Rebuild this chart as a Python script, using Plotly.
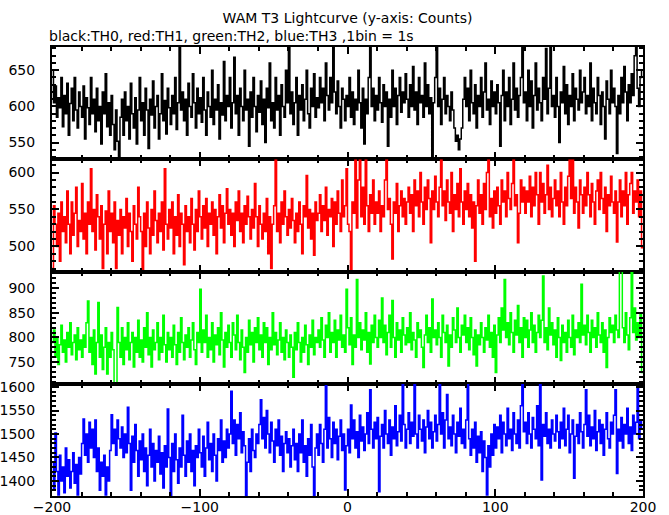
import numpy as np
import plotly.graph_objects as go
from plotly.subplots import make_subplots

# time bins (1 s), start of each bin, -200 .. 199
time_start = -200
n_bins = 400

th0 = [
650, 605, 628, 585, 612, 598, 640, 572, 615, 590, 632, 560, 604, 625, 580, 640, 595, 570, 620, 600,
585, 628, 555, 612, 598, 575, 640, 590, 610, 565, 625, 580, 600, 548, 620, 590, 645, 572, 605, 560,
615, 575, 540, 595, 552, 530, 585, 610, 560, 620, 580, 600, 555, 632, 590, 570, 612, 548, 595, 640,
580, 605, 560, 625, 595, 542, 610, 588, 635, 570, 600, 615, 555, 590, 645, 580, 608, 562, 625, 598,
575, 615, 590, 640, 568, 605, 688, 595, 620, 580, 610, 560, 632, 600, 585, 645, 605, 570, 625, 590,
612, 578, 640, 595, 560, 620, 600, 585, 650, 575, 610, 595, 630, 555, 605, 588, 662, 580, 615, 600,
640, 570, 605, 668, 590, 615, 560, 625, 600, 580, 650, 595, 610, 545, 620, 585, 640, 600, 565, 615,
592, 635, 575, 610, 550, 625, 598, 660, 580, 605, 570, 640, 595, 615, 560, 630, 600, 585, 650, 605,
690, 590, 620, 575, 605, 640, 560, 615, 595, 630, 580, 610, 650, 590, 570, 625, 600, 645, 585, 612,
598, 640, 605, 625, 580, 660, 615, 595, 640, 605, 682, 620, 590, 635, 600, 570, 625, 610, 580, 615,
600, 640, 585, 620, 575, 610, 595, 650, 605, 570, 625, 548, 610, 590, 640, 690, 600, 625, 580, 615,
595, 640, 605, 578, 630, 600, 620, 545, 610, 585, 650, 600, 625, 575, 615, 640, 592, 620, 605, 645,
610, 585, 630, 600, 655, 595, 620, 575, 640, 605, 615, 585, 660, 600, 630, 590, 612, 530, 605, 640,
690, 600, 625, 575, 610, 640, 590, 615, 600, 580, 620, 595, 570, 552, 560, 540, 555, 570, 610, 640,
600, 625, 580, 650, 605, 590, 630, 570, 615, 600, 640, 585, 620, 660, 595, 610, 575, 635, 600, 620,
590, 630, 605, 545, 615, 650, 580, 620, 600, 640, 575, 610, 660, 595, 625, 585, 615, 640, 690, 605,
620, 580, 650, 600, 635, 570, 615, 660, 595, 625, 605, 580, 640, 610, 680, 590, 625, 690, 600, 615,
585, 640, 600, 550, 620, 605, 655, 590, 630, 575, 615, 600, 645, 580, 625, 610, 595, 650, 605, 620,
640, 590, 615, 600, 660, 580, 625, 605, 590, 640, 615, 575, 620, 600, 555, 635, 610, 590, 650, 605,
625, 600, 535, 615, 590, 640, 605, 655, 620, 580, 630, 605, 645, 615, 670, 690, 625, 600, 640, 650,
]

th1 = [
470, 555, 530, 500, 545, 480, 560, 520, 540, 505, 575, 530, 490, 560, 515, 545, 580, 500, 535, 520,
585, 510, 545, 490, 560, 530, 605, 520, 550, 495, 570, 540, 510, 555, 470, 530, 548, 490, 575, 520,
545, 505, 560, 470, 535, 515, 550, 490, 540, 525, 565, 500, 545, 520, 480, 555, 530, 510, 580, 540,
520, 467, 545, 500, 560, 525, 490, 550, 515, 575, 535, 505, 545, 520, 560, 495, 605, 530, 510, 550,
525, 560, 490, 540, 515, 570, 500, 545, 530, 475, 555, 520, 540, 505, 565, 530, 495, 550, 520, 575,
540, 510, 555, 525, 565, 500, 545, 530, 560, 515, 550, 490, 540, 570, 525, 555, 505, 545, 578, 530,
550, 515, 545, 500, 560, 535, 575, 520, 545, 505, 555, 530, 568, 540, 510, 550, 525, 585, 540, 500,
555, 530, 510, 545, 520, 565, 490, 540, 470, 530, 555, 617, 520, 545, 505, 560, 530, 575, 540, 515,
550, 525, 565, 535, 505, 545, 520, 560, 530, 490, 555, 540, 596, 525, 550, 510, 545, 488, 560, 535,
545, 570, 520, 555, 535, 580, 515, 550, 540, 565, 500, 560, 530, 575, 545, 520, 590, 540, 555, 605,
530, 520, 466, 560, 545, 617, 525, 590, 617, 540, 580, 530, 617, 555, 520, 570, 545, 590, 530, 560,
545, 575, 520, 555, 540, 590, 617, 550, 565, 530, 483, 560, 545, 585, 520, 555, 575, 540, 565, 530,
560, 580, 545, 570, 520, 590, 555, 575, 540, 600, 560, 530, 580, 550, 590, 565, 505, 575, 550, 595,
560, 540, 580, 617, 555, 575, 535, 590, 560, 545, 600, 520, 570, 550, 585, 540, 605, 560, 530, 575,
550, 585, 540, 570, 525, 560, 480, 555, 590, 545, 570, 530, 585, 550, 600, 617, 540, 565, 525, 575,
545, 580, 555, 530, 590, 560, 575, 540, 600, 565, 550, 585, 617, 555, 570, 505, 545, 590, 560, 580,
545, 575, 560, 595, 540, 580, 555, 600, 570, 530, 600, 560, 585, 545, 570, 610, 550, 580, 540, 565,
590, 555, 575, 540, 600, 560, 530, 580, 555, 595, 617, 565, 617, 545, 580, 560, 525, 590, 570, 545,
580, 555, 600, 570, 540, 585, 560, 530, 575, 590, 550, 600, 565, 545, 580, 520, 570, 555, 595, 560,
545, 575, 506, 560, 590, 540, 575, 555, 600, 530, 570, 585, 600, 545, 575, 560, 590, 540, 575, 498,
]

th2 = [
790, 815, 760, 800, 745, 785, 825, 770, 795, 750, 810, 780, 830, 765, 790, 805, 755, 820, 775, 795,
760, 805, 780, 830, 874, 770, 800, 745, 815, 726, 790, 871, 760, 805, 735, 780, 820, 726, 790, 760,
810, 775, 705, 706, 861, 790, 760, 820, 745, 800, 775, 830, 755, 790, 810, 740, 800, 770, 835, 760,
795, 750, 820, 780, 850, 765, 800, 740, 815, 775, 790, 830, 755, 800, 770, 845, 785, 750, 810, 775,
800, 760, 825, 785, 745, 810, 770, 840, 790, 755, 805, 780, 820, 760, 795, 830, 775, 745, 810, 790,
898, 770, 815, 790, 845, 760, 800, 775, 830, 750, 805, 785, 820, 765, 850, 795, 740, 810, 780, 825,
790, 760, 830, 805, 775, 845, 790, 755, 815, 780, 729, 800, 770, 835, 785, 810, 750, 820, 790, 840,
775, 805, 760, 830, 790, 820, 745, 800, 775, 850, 785, 810, 765, 795, 830, 770, 800, 755, 815, 790,
760, 805, 780, 719, 810, 775, 830, 790, 750, 800, 770, 825, 785, 745, 805, 780, 835, 765, 800, 790,
815, 780, 840, 795, 760, 825, 800, 850, 770, 810, 790, 835, 760, 815, 795, 845, 780, 805, 770, 898,
820, 785, 840, 745, 805, 780, 918, 800, 830, 775, 815, 795, 850, 770, 810, 746, 825, 790, 845, 800,
780, 835, 800, 880, 790, 825, 765, 810, 845, 780, 875, 800, 760, 830, 795, 815, 770, 840, 805, 785,
820, 790, 850, 775, 810, 795, 760, 830, 800, 815, 780, 739, 805, 845, 790, 820, 770, 878, 800, 815,
785, 830, 800, 760, 845, 810, 790, 825, 742, 805, 780, 840, 815, 790, 860, 800, 770, 825, 805, 845,
790, 820, 775, 840, 800, 765, 815, 742, 805, 785, 830, 800, 770, 820, 795, 845, 780, 810, 760, 825,
729, 805, 840, 790, 860, 815, 918, 800, 830, 785, 850, 810, 770, 835, 805, 865, 790, 820, 760, 840,
800, 835, 780, 815, 850, 790, 825, 770, 810, 845, 800, 835, 925, 790, 820, 775, 860, 805, 830, 785,
815, 760, 840, 800, 753, 825, 790, 810, 770, 835, 800, 780, 845, 765, 815, 800, 830, 790, 908, 805,
825, 785, 845, 810, 770, 835, 800, 820, 780, 850, 805, 790, 830, 770, 815, 739, 800, 840, 810, 825,
790, 845, 815, 800, 940, 940, 820, 790, 850, 805, 775, 840, 940, 810, 860, 795, 830, 800, 850, 729,
]

th3 = [
1440, 1380, 1502, 1420, 1370, 1455, 1400, 1430, 1375, 1470, 1410, 1445, 1385, 1420, 1460, 1395, 1435, 1370, 1450, 1415,
1480, 1532, 1455, 1500, 1440, 1525, 1470, 1510, 1450, 1530, 1420, 1470, 1380, 1440, 1410, 1455, 1370, 1430, 1400, 1465,
1541, 1480, 1510, 1455, 1530, 1490, 1470, 1515, 1450, 1500, 1460, 1557, 1480, 1380, 1495, 1440, 1520, 1465, 1410, 1485,
1445, 1500, 1420, 1470, 1390, 1455, 1510, 1430, 1480, 1400, 1465, 1440, 1495, 1415, 1460, 1385, 1475, 1430, 1553, 1450,
1365, 1480, 1420, 1500, 1445, 1395, 1470, 1430, 1540, 1455, 1410, 1485, 1440, 1500, 1420, 1465, 1390, 1475, 1450, 1510,
1460, 1430, 1495, 1410, 1470, 1525, 1445, 1480, 1420, 1500, 1455, 1400, 1490, 1465, 1530, 1440, 1485, 1450, 1510, 1470,
1500, 1591, 1480, 1530, 1455, 1520, 1490, 1545, 1460, 1505, 1475, 1365, 1440, 1490, 1420, 1510, 1465, 1450, 1500, 1480,
1520, 1573, 1490, 1535, 1470, 1550, 1500, 1460, 1525, 1485, 1440, 1510, 1475, 1530, 1455, 1495, 1420, 1480, 1505, 1460,
1490, 1430, 1475, 1510, 1445, 1480, 1420, 1500, 1460, 1530, 1440, 1475, 1410, 1490, 1455, 1520, 1430, 1365, 1470, 1500,
1455, 1520, 1480, 1440, 1510, 1603, 1470, 1535, 1490, 1450, 1525, 1480, 1510, 1445, 1495, 1530, 1465, 1500, 1381, 1475,
1510, 1460, 1562, 1490, 1530, 1470, 1505, 1450, 1540, 1485, 1515, 1465, 1500, 1545, 1480, 1594, 1510, 1470, 1525, 1490,
1535, 1377, 1495, 1520, 1470, 1550, 1500, 1480, 1530, 1455, 1515, 1490, 1560, 1475, 1505, 1540, 1485, 1610, 1520, 1470,
1510, 1545, 1480, 1525, 1495, 1610, 1500, 1470, 1540, 1510, 1485, 1530, 1460, 1515, 1550, 1490, 1525, 1470, 1505, 1540,
1485, 1520, 1610, 1500, 1545, 1470, 1530, 1584, 1490, 1515, 1475, 1540, 1500, 1460, 1525, 1495, 1555, 1480, 1510, 1470,
1530, 1610, 1490, 1455, 1510, 1470, 1525, 1440, 1495, 1460, 1505, 1420, 1485, 1450, 1370, 1475, 1430, 1500, 1455, 1520,
1470, 1515, 1490, 1540, 1460, 1525, 1500, 1475, 1555, 1490, 1510, 1465, 1545, 1500, 1480, 1530, 1470, 1560, 1610, 1505,
1525, 1480, 1545, 1500, 1470, 1535, 1510, 1490, 1560, 1475, 1610, 1402, 1520, 1495, 1545, 1480, 1510, 1470, 1530, 1500,
1485, 1540, 1505, 1470, 1525, 1490, 1555, 1475, 1510, 1540, 1460, 1500, 1530, 1406, 1495, 1520, 1480, 1545, 1505, 1470,
1520, 1594, 1495, 1540, 1475, 1515, 1490, 1550, 1465, 1505, 1530, 1480, 1520, 1455, 1510, 1545, 1490, 1470, 1525, 1500,
1540, 1594, 1416, 1510, 1485, 1535, 1470, 1520, 1500, 1555, 1480, 1515, 1465, 1540, 1500, 1525, 1600, 1490, 1530, 1510,
]

series = [th0, th1, th2, th3]
colors = ["#000000", "#ff0000", "#00ff00", "#0000ff"]
y_ranges = [[527, 682], [466, 618], [706, 934], [1368, 1607]]
x_range = [-200, 200]
x_tickvals = [-200, -100, 0, 100, 200]
x_ticktext = ["\u2212200", "\u2212100", "0", "100", "200"]

fig = make_subplots(rows=4, cols=1, shared_xaxes=True, vertical_spacing=0)

x = np.arange(time_start, time_start + n_bins + 1)
for i, (vals, col) in enumerate(zip(series, colors)):
    y = list(vals) + [vals[-1]]
    fig.add_trace(go.Scatter(x=x, y=y, mode="lines", line=dict(color=col, width=1.5, shape="hv"),
                             showlegend=False, hoverinfo="skip"), row=i + 1, col=1)

font_family = "DejaVu Sans"
for i in range(4):
    fig.update_xaxes(row=i + 1, col=1, range=x_range, showline=True, linecolor="black", linewidth=2,
                     mirror="ticks", ticks="inside", ticklen=7, tickwidth=2, tickcolor="black",
                     tickvals=x_tickvals, ticktext=x_ticktext, showgrid=False, zeroline=False,
                     showticklabels=(i == 3), automargin=False, ticklabelstandoff=-3,
                     minor=dict(ticks="inside", dtick=20, tick0=0, ticklen=4, tickwidth=2, tickcolor="black", showgrid=False),
                     tickfont=dict(family=font_family, size=14, color="black"))
    fig.update_yaxes(row=i + 1, col=1, range=y_ranges[i], showline=True, linecolor="black", linewidth=2,
                     mirror="ticks", ticks="inside", ticklen=7, tickwidth=2, tickcolor="black",
                     dtick=50, showgrid=False, zeroline=False, automargin=False,
                     minor=dict(ticks="inside", dtick=10, ticklen=4, tickwidth=1.5, tickcolor="black", showgrid=False),
                     ticklabelstandoff=12,
                     tickfont=dict(family=font_family, size=14, color="black"))

fig.update_layout(
    width=669, height=515,
    margin=dict(l=52, r=26, t=47, b=19, autoexpand=False),
    paper_bgcolor="white", plot_bgcolor="white",
    font=dict(family=font_family, color="black"),
    title=dict(text="WAM T3 Lightcurve (y-axis: Counts)", xref="paper", x=0.5, xanchor="center",
               y=1 - 18 / 515, yanchor="middle", font=dict(size=14, color="black", family=font_family)),
    annotations=[dict(text="black:TH0, red:TH1, green:TH2, blue:TH3 ,1bin = 1s", xref="paper", yref="paper",
                      x=-0.0085, xanchor="left", y=1.0245, yanchor="middle", showarrow=False,
                      font=dict(size=14, color="black", family=font_family))],
)

fig.write_html("out.html", config={"displayModeBar": False},
               post_script="document.body.style.margin='0';")
